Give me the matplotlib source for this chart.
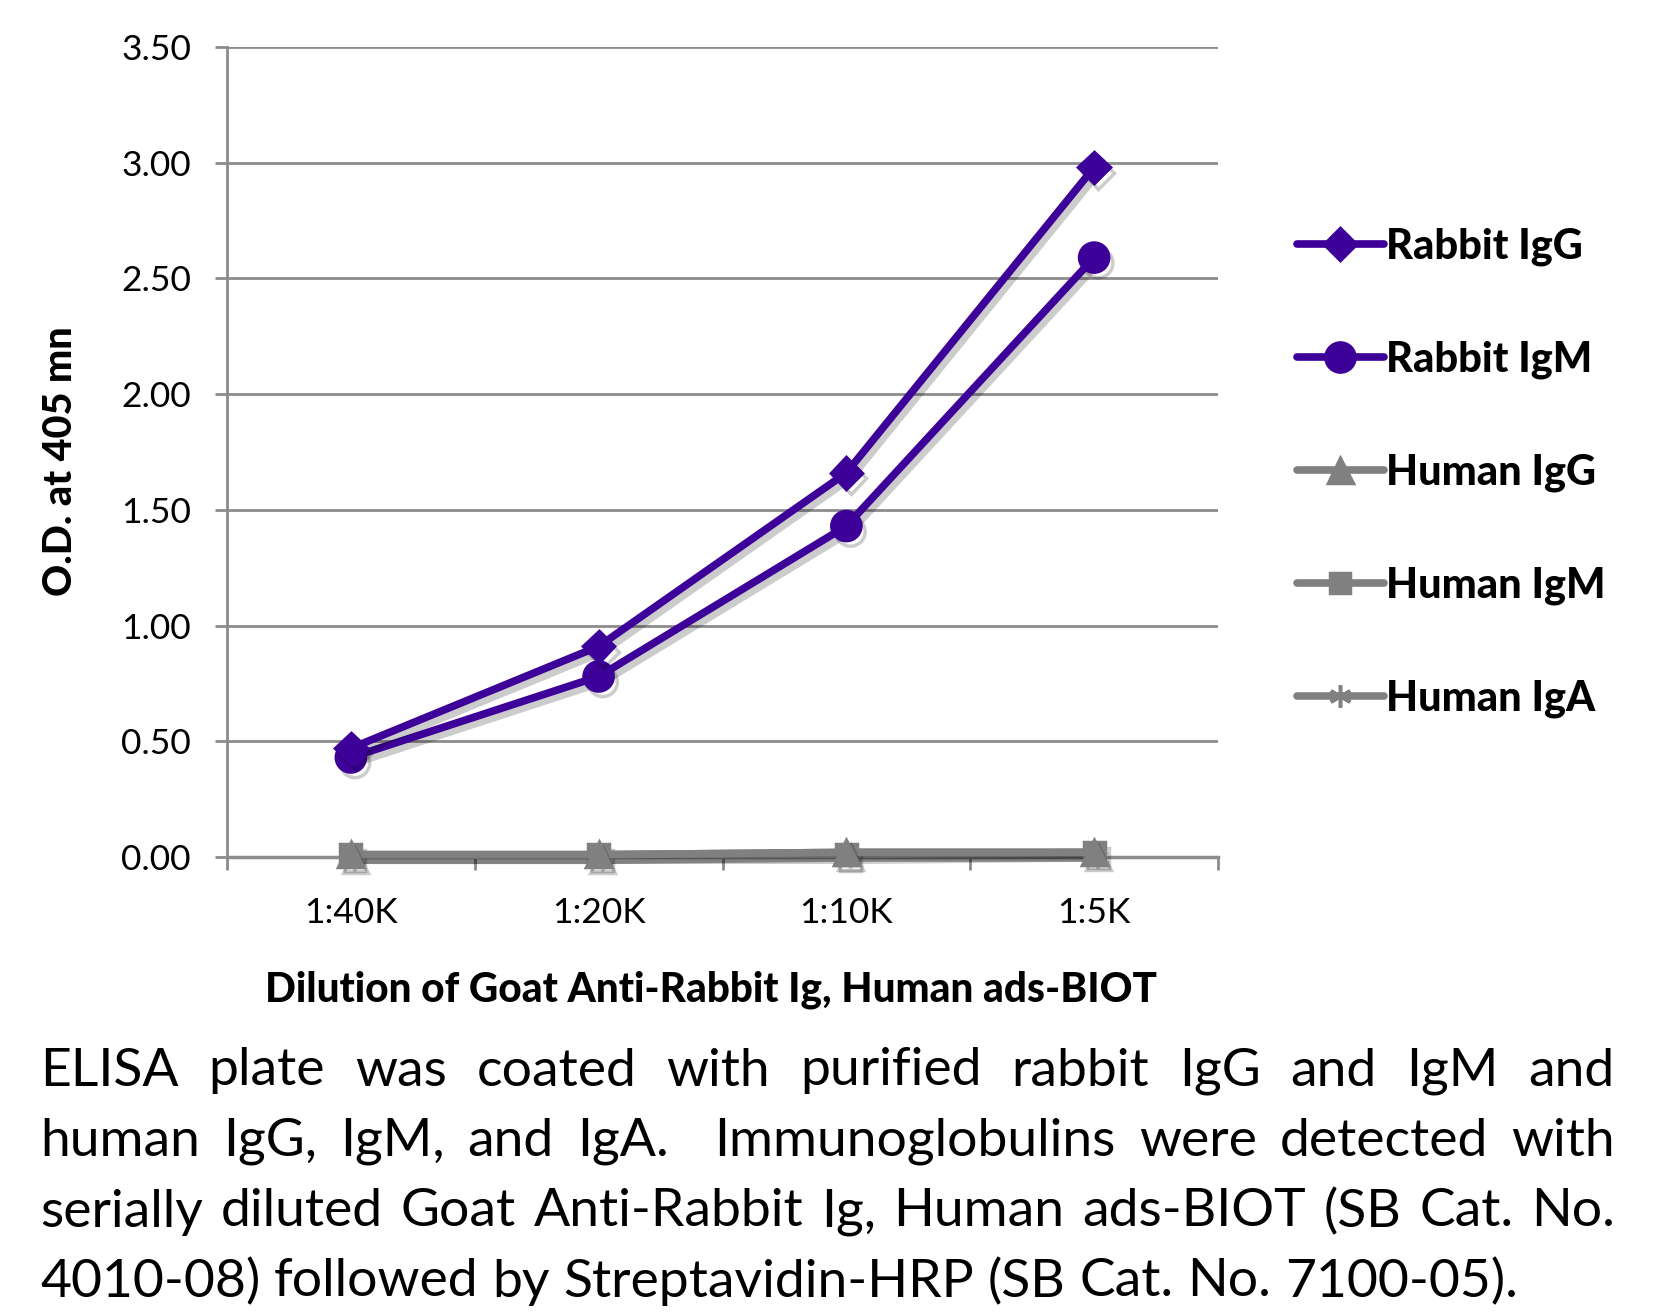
import matplotlib.pyplot as plt
import matplotlib.patheffects as pe
from matplotlib.lines import Line2D

##data
dilutions = ["1:40K", "1:20K", "1:10K", "1:5K"]
rabbit_igg = [0.47, 0.91, 1.66, 2.98]
rabbit_igm = [0.43, 0.78, 1.43, 2.59]
human_igg = [0.01, 0.01, 0.02, 0.02]
human_igm = [0.01, 0.01, 0.01, 0.02]
human_iga = [0.01, 0.01, 0.02, 0.02]
yticks = [0.0, 0.5, 1.0, 1.5, 2.0, 2.5, 3.0, 3.5]

caption_lines = [
    "ELISA plate was coated with purified rabbit IgG and IgM and",
    "human IgG, IgM, and IgA.  Immunoglobulins were detected with",
    "serially diluted Goat Anti-Rabbit Ig, Human ads-BIOT (SB Cat. No.",
    "4010-08) followed by Streptavidin-HRP (SB Cat. No. 7100-05).",
]

purple = "#3d0099"
gray = "#808080"
gridc = "#8c8c8c"
FONT = "Lato"

W, H = 1671, 1315
fig = plt.figure(figsize=(W / 100, H / 100), dpi=100)
ax = fig.add_axes([227 / W, 1 - 857 / H, 991 / W, 810 / H])

shadow = [pe.SimpleLineShadow(offset=(3, -4), shadow_color="black", alpha=0.2), pe.Normal()]
x = list(range(len(dilutions)))

asterisk = (6, 2, 0)
series = [
    ("Rabbit IgG", rabbit_igg, purple, "D", 16),
    ("Rabbit IgM", rabbit_igm, purple, "o", 21),
    ("Human IgG", human_igg, gray, "^", 18),
    ("Human IgM", human_igm, gray, "s", 15),
    ("Human IgA", human_iga, gray, asterisk, 16),
]
handles = []
for name, vals, col, mk, ms in reversed(series):
    ax.plot(x, vals, color=col, lw=5.5, marker=mk, ms=ms, mew=2.5,
            solid_capstyle="round", path_effects=shadow, zorder=3, clip_on=False)
for name, vals, col, mk, ms in series:
    handles.append(Line2D([], [], color=col, lw=5.5, marker=mk, ms=ms, mew=2.5,
                          solid_capstyle="round"))

ax.set_xlim(-0.5, 3.5)
ax.set_ylim(0, 3.5)
ax.set_yticks(yticks)
ax.set_yticklabels(["%.2f" % v for v in yticks])
ax.yaxis.grid(True, color=gridc, lw=2)
ax.set_axisbelow(True)
ax.set_xticks([-0.5, 0.5, 1.5, 2.5, 3.5])
ax.set_xticklabels([])
ax.set_xticks(x, minor=True)
ax.set_xticklabels(dilutions, minor=True, fontsize=25.5, family=FONT)
ax.tick_params(axis="x", which="minor", length=0, pad=29)
ax.tick_params(axis="x", which="major", length=9, width=2, color=gridc, direction="out")
ax.tick_params(axis="y", length=9, width=2, color=gridc, pad=17, labelsize=25.5)
for lab in ax.get_yticklabels():
    lab.set_family(FONT)
for s in ["top", "right"]:
    ax.spines[s].set_visible(False)
ax.spines["left"].set_color(gridc)
ax.spines["left"].set_linewidth(2)
ax.spines["bottom"].set_color(gridc)
ax.spines["bottom"].set_linewidth(2.5)

fig.text(61 / W, 1 - 461 / H, "O.D. at 405 mn", rotation=90, ha="center", va="center",
         fontsize=28.5, fontweight="black", family=FONT)
fig.text(711 / W, 1 - 990 / H, "Dilution of Goat Anti-Rabbit Ig, Human ads-BIOT",
         ha="center", va="center", fontsize=29.2, fontweight="black", family=FONT)

fig.legend(handles, [s[0] for s in series], loc="upper left",
           bbox_to_anchor=(1259 / W, 1 - 190 / H), frameon=False,
           handlelength=2.1, handletextpad=0.05, labelspacing=1.79,
           prop={"family": FONT, "weight": "black", "size": 30})

# justified caption
r = fig.canvas.get_renderer()
left, right = 40, 1615
cap_y = [1071, 1141, 1212, 1282]
fs = 38.5
sp = fig.text(0, 0, "a a", fontsize=fs, family=FONT)
a = fig.text(0, 0, "aa", fontsize=fs, family=FONT)
space = sp.get_window_extent(r).width - a.get_window_extent(r).width
sp.remove()
a.remove()
for i, line in enumerate(caption_lines):
    words = line.split(" ")
    widths = []
    for w in words:
        if w == "":
            widths.append(0)
            continue
        t = fig.text(0, 0, w, fontsize=fs, family=FONT)
        widths.append(t.get_window_extent(r).width)
        t.remove()
    if i < len(caption_lines) - 1:
        gap = (right - left - sum(widths)) / (len(words) - 1)
    else:
        gap = space
    xp = left
    for w, wd in zip(words, widths):
        if w:
            fig.text(xp / W, 1 - cap_y[i] / H, w, fontsize=fs, family=FONT, va="center")
        xp += wd + gap

fig.savefig("out.png", dpi=100)
